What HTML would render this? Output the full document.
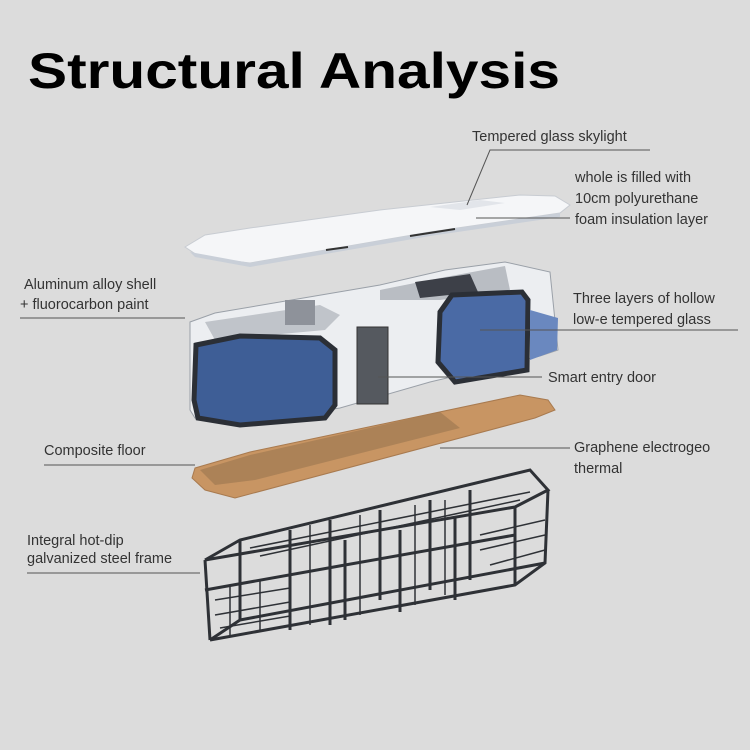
<!DOCTYPE html>
<html><head><meta charset="utf-8"><style>
html,body{margin:0;padding:0;background:#dcdcdc}
svg{display:block}
text{font-family:"Liberation Sans",sans-serif}
.l{font-size:14.5px;fill:#333}
</style></head><body>
<svg width="750" height="750" viewBox="0 0 750 750">
<rect width="750" height="750" fill="#dcdcdc"/>
<text x="28" y="88" font-size="50" font-weight="bold" fill="#000" textLength="532" lengthAdjust="spacingAndGlyphs">Structural Analysis</text>

<!-- roof -->
<polygon points="185,247 205,235 250,228 380,210 520,195 555,196 570,205 560,213 430,232 250,263 200,257" fill="#f5f6f8" stroke="#c8ccd2" stroke-width="1"/>
<polygon points="190,252 250,263 430,232 560,213 560,217 430,236 250,267 195,257" fill="#c9cfd8"/>
<polygon points="430,207 480,200 505,203 460,210" fill="#e2e5ea"/>
<line x1="326" y1="250" x2="348" y2="247" stroke="#333" stroke-width="2"/>
<line x1="410" y1="236" x2="455" y2="229" stroke="#333" stroke-width="2"/>

<!-- shell -->
<polygon points="190,322 215,313 380,285 445,270 505,262 550,272 558,350 540,356 430,382 340,408 230,425 195,418 190,410" fill="#eceef1" stroke="#9aa0a8" stroke-width="1"/>
<polygon points="205,322 320,305 340,315 325,330 215,340" fill="#c0c4ca"/>
<polygon points="380,290 440,278 505,266 510,290 440,300 380,300" fill="#b9bdc3"/>
<polygon points="415,282 470,274 478,292 420,298" fill="#3d4048"/>
<rect x="285" y="300" width="30" height="25" fill="#8e929a"/>
<polygon points="196,345 240,336 320,338 335,350 335,405 325,418 240,425 198,418 194,400" fill="#3e5e96" stroke="#2b2f36" stroke-width="5"/>
<polygon points="452,295 522,292 528,300 527,370 455,382 438,362 440,312" fill="#4a6aa5" stroke="#2b2f36" stroke-width="5"/>
<polygon points="530,310 558,318 557,350 530,360" fill="#6a88bf"/>
<rect x="357" y="327" width="31" height="77" fill="#55595f" stroke="#333" stroke-width="1"/>

<!-- floor -->
<polygon points="195,468 250,452 520,395 548,400 555,410 535,418 235,498 205,490 192,478" fill="#c89563" stroke="#a87a4f" stroke-width="1"/>
<polygon points="200,470 250,455 440,412 460,428 255,480 215,485" fill="#9a7650" opacity="0.6"/>

<!-- frame -->
<g fill="none" stroke="#2e3136" stroke-width="3">
<polyline points="205,560 515,507 548,490 530,470 240,540 205,560"/>
<polyline points="210,640 515,585 545,563 548,490"/>
<line x1="205" y1="560" x2="210" y2="640"/>
<line x1="515" y1="507" x2="515" y2="585"/>
<line x1="240" y1="540" x2="240" y2="620"/>
<line x1="210" y1="640" x2="240" y2="620"/>
<line x1="240" y1="620" x2="545" y2="563"/>
<line x1="290" y1="530" x2="290" y2="630"/>
<line x1="330" y1="520" x2="330" y2="625"/>
<line x1="345" y1="540" x2="345" y2="620"/>
<line x1="380" y1="510" x2="380" y2="600"/>
<line x1="400" y1="530" x2="400" y2="612"/>
<line x1="430" y1="500" x2="430" y2="590"/>
<line x1="455" y1="518" x2="455" y2="600"/>
<line x1="470" y1="490" x2="470" y2="580"/>
<line x1="205" y1="590" x2="345" y2="565"/>
<line x1="345" y1="565" x2="515" y2="535"/>
</g>
<g stroke="#2e3136" stroke-width="1.5" fill="none">
<line x1="215" y1="600" x2="290" y2="588"/>
<line x1="215" y1="615" x2="290" y2="602"/>
<line x1="220" y1="628" x2="290" y2="616"/>
<line x1="230" y1="585" x2="230" y2="635"/>
<line x1="260" y1="580" x2="260" y2="632"/>
<line x1="310" y1="525" x2="310" y2="625"/>
<line x1="360" y1="515" x2="360" y2="615"/>
<line x1="415" y1="505" x2="415" y2="605"/>
<line x1="445" y1="500" x2="445" y2="595"/>
<line x1="480" y1="535" x2="545" y2="520"/>
<line x1="480" y1="550" x2="545" y2="535"/>
<line x1="490" y1="565" x2="545" y2="550"/>
<line x1="250" y1="548" x2="530" y2="492"/>
<line x1="260" y1="556" x2="520" y2="500"/>
</g>

<!-- labels -->
<g class="l">
<text x="472" y="141">Tempered glass skylight</text>
<text x="575" y="182">whole is filled with</text>
<text x="575" y="203">10cm polyurethane</text>
<text x="575" y="224">foam insulation layer</text>
<text x="24" y="289">Aluminum alloy shell</text>
<text x="20" y="309">+ fluorocarbon paint</text>
<text x="573" y="303">Three layers of hollow</text>
<text x="573" y="324">low-e tempered glass</text>
<text x="548" y="382">Smart entry door</text>
<text x="44" y="455">Composite floor</text>
<text x="574" y="452">Graphene electrogeo</text>
<text x="574" y="473">thermal</text>
<text x="27" y="545">Integral hot-dip</text>
<text x="27" y="563">galvanized steel frame</text>
</g>
<g stroke="#555" stroke-width="1" fill="none">
<polyline points="467,205 490,150 650,150"/>
<line x1="476" y1="218" x2="570" y2="218"/>
<line x1="20" y1="318" x2="185" y2="318"/>
<line x1="480" y1="330" x2="738" y2="330"/>
<line x1="378" y1="377" x2="542" y2="377"/>
<line x1="44" y1="465" x2="195" y2="465"/>
<line x1="440" y1="448" x2="570" y2="448"/>
<line x1="27" y1="573" x2="200" y2="573"/>
</g>
</svg>
</body></html>
